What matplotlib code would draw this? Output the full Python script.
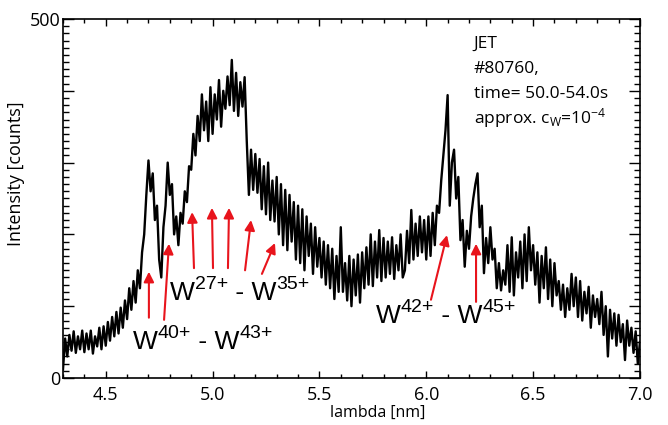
import numpy as np
import matplotlib
matplotlib.use("Agg")
import matplotlib.pyplot as plt
from matplotlib.ticker import MultipleLocator, FuncFormatter

plt.rcParams['font.family'] = ['Open Sans', 'DejaVu Sans']
plt.rcParams['mathtext.fontset'] = 'custom'
plt.rcParams['mathtext.rm'] = 'Open Sans'
plt.rcParams['mathtext.it'] = 'Open Sans'

# ---- data ----
lambda_start = 4.30   # nm
lambda_step = 0.01    # nm
intensity = [
    12, 55, 30, 60, 38, 65, 35, 58, 40, 66,
    36, 62, 40, 66, 34, 58, 44, 70, 40, 72,
    45, 78, 52, 85, 58, 92, 62, 98, 70, 108,
    82, 125, 95, 135, 105, 150, 125, 175, 200, 255,
    303, 260, 285, 220, 240, 165, 140, 210, 240, 300,
    255, 270, 200, 225, 185, 230, 215, 260, 245, 295,
    290, 340, 310, 365, 330, 395, 345, 385, 330, 405,
    340, 395, 360, 415, 350, 400, 375, 420, 380, 443,
    372, 425, 365, 412, 378, 419, 330, 255, 318, 262,
    312, 258, 305, 235, 295, 228, 300, 220, 275, 218,
    280, 200, 270, 185, 262, 178, 255, 190, 245, 165,
    240, 160, 235, 150, 225, 170, 215, 145, 210, 155,
    195, 140, 190, 130, 185, 125, 180, 110, 170, 120,
    210, 120, 160, 108, 170, 100, 165, 115, 172, 105,
    175, 125, 182, 130, 200, 128, 190, 140, 206, 135,
    195, 140, 190, 145, 196, 138, 185, 150, 200, 140,
    150, 205, 160, 234, 165, 215, 170, 225, 175, 220,
    165, 225, 170, 230, 185, 240, 230, 275, 310, 345,
    394, 240, 300, 318, 250, 280, 192, 220, 155, 205,
    180, 225, 250, 270, 285, 210, 240, 146, 195, 160,
    210, 165, 180, 125, 160, 122, 150, 130, 185, 120,
    196, 115, 175, 140, 190, 125, 200, 135, 210, 150,
    185, 130, 175, 105, 170, 125, 182, 110, 165, 100,
    160, 115, 135, 95, 130, 85, 125, 95, 145, 100,
    140, 85, 135, 80, 120, 90, 127, 70, 115, 85,
    110, 75, 120, 60, 100, 30, 95, 55, 90, 45,
    88, 50, 75, 25, 80, 45, 70, 35, 65, 20, 50,
]
wavelength = lambda_start + lambda_step * np.arange(len(intensity))

info_lines = ["JET", "#80760,", "time= 50.0-54.0s",
              r"approx. c$_{\mathrm{W}}$=10$^{-4}$"]

# groups: (ion from, ion to), label position, arrows (tail, head)
groups = [
    (("27+", "35+"), (4.80, 117),
     [((4.913, 153), (4.904, 231)), ((5.002, 153), (4.997, 237)),
      ((5.072, 153), (5.077, 237)), ((5.152, 150), (5.180, 220)),
      ((5.231, 145), (5.292, 188))]),
    (("40+", "43+"), (4.628, 49),
     [((4.702, 84), (4.702, 148)), ((4.773, 81), (4.796, 187))]),
    (("42+", "45+"), (5.765, 86),
     [((6.022, 109), (6.097, 199)), ((6.233, 106), (6.233, 187))]),
]

fig = plt.figure(figsize=(6.68, 4.25), dpi=100)
ax = fig.add_axes([0.0943, 0.1106, 0.8637, 0.8447])

ax.plot(wavelength, intensity, color='black', lw=1.7)

ax.set_xlim(4.3, 7.0)
ax.set_ylim(0, 500)
ax.xaxis.set_major_locator(MultipleLocator(0.5))
ax.xaxis.set_minor_locator(MultipleLocator(0.1))
ax.yaxis.set_major_locator(MultipleLocator(100))
ax.yaxis.set_minor_locator(MultipleLocator(10))
ax.xaxis.set_major_formatter(FuncFormatter(lambda v, p: f"{v:.1f}"))
ax.yaxis.set_major_formatter(FuncFormatter(lambda v, p: f"{int(round(v))}" if round(v) in (0, 500) else ""))

ax.tick_params(axis='both', which='both', direction='in', top=True, right=True,
               labelsize=13, colors='black', width=1.0)
ax.tick_params(axis='x', which='major', length=5, pad=6)
ax.tick_params(axis='x', which='minor', length=2.8)
ax.tick_params(axis='y', which='major', length=8, pad=2)
ax.tick_params(axis='y', which='minor', length=4.3)
for s in ax.spines.values():
    s.set_linewidth(1.2)

ax.set_xlabel("lambda [nm]", fontsize=11.5)
ax.xaxis.set_label_coords(0.545, -0.074)
ax.set_ylabel("Intensity [counts]", fontsize=13)
ax.yaxis.set_label_coords(-0.066, 0.57)

y0 = 0.93
for i, line in enumerate(info_lines):
    ax.text(0.712, y0 - i * 0.069, line, transform=ax.transAxes, fontsize=12.5,
            va='center', ha='left')

renderer = fig.canvas.get_renderer()
px2pt = 72.0 / fig.dpi


def piece_label(pos, pieces, family):
    """pieces: list of (text, fontsize, raise_pt); laid out left to right."""
    dx = 0.0
    for txt, fs, rise in pieces:
        t = ax.annotate(txt, xy=pos, xycoords='data', xytext=(dx, rise),
                        textcoords='offset points', fontsize=fs,
                        va='baseline', ha='left', family=family)
        w = t.get_window_extent(renderer).width * px2pt
        dx += w


red = '#e8141c'
big, small, rise = 19, 14, 8.0
for (ion_a, ion_b), pos, arrows in groups:
    base = (pos[0], pos[1] - 9)
    piece_label(base, [("W", big, 0), (ion_a, small, rise),
                       (" - W", big, 0), (ion_b, small, rise)],
                ['Liberation Sans', 'DejaVu Sans'])
    for tail, head in arrows:
        ax.annotate('', xy=head, xytext=tail,
                    arrowprops=dict(arrowstyle='-|>', color=red, lw=1.5,
                                    mutation_scale=15, shrinkA=0, shrinkB=0))

fig.savefig("out.png", dpi=100)
